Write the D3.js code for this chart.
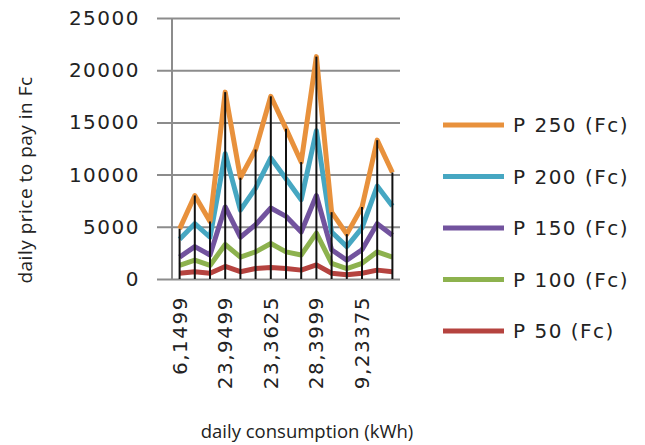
<!DOCTYPE html>
<html>
<head>
<meta charset="utf-8">
<script src="https://cdn.jsdelivr.net/npm/d3@7/dist/d3.min.js"></script>
<style>
  body { margin: 0; background: #fff; }
  text { font-family: "Open Sans", sans-serif; fill: #222; }
  .wide { font-family: "DejaVu Sans", sans-serif; letter-spacing: 1.5px; }
</style>
</head>
<body>
<div id="chart"></div>
<script>
// categories (15 points, only every third one carries a label)
var categories = ["6,1499", "", "", "23,9499", "", "", "23,3625", "", "", "28,3999", "", "", "9,23375", "", ""];
var yTicks = [0, 5000, 10000, 15000, 20000, 25000];

var seriesNames = ["P 250 (Fc)", "P 200 (Fc)", "P 150 (Fc)", "P 100 (Fc)", "P 50 (Fc)"];
var p250 = [4800, 8000, 5500, 17900, 9700, 12400, 17500, 14400, 11200, 21300, 6400, 4300, 6900, 13300, 10200];
var p200 = [3800, 5300, 4000, 12000, 6600, 8700, 11600, 9600, 7600, 14200, 4500, 3100, 4900, 8900, 7000];
var p150 = [2100, 3100, 2300, 6900, 4000, 5200, 6800, 6000, 4500, 8000, 2800, 1800, 2800, 5300, 4200];
var p100 = [1300, 1800, 1300, 3300, 2100, 2600, 3400, 2600, 2300, 4400, 1500, 1000, 1500, 2600, 2100];
var p50  = [550, 700, 550, 1200, 700, 1000, 1100, 1000, 850, 1350, 550, 400, 550, 850, 700];
var colors = ["#E8913C", "#46A7C2", "#72539E", "#8DB24E", "#B5433F"];

function renderChart(){
    var outerWidth = 645, outerHeight = 445;
    var margin = {top: 18, left: 172};
    var width = 228, height = 261;

    var allSeries = [p250, p200, p150, p100, p50];

    var x = d3.scaleBand()
        .domain(d3.range(categories.length))
        .range([0, width]);

    var y = d3.scaleLinear()
        .domain([0, 25000])
        .range([height, 0]);

    var line = d3.line()
        .x(function(d, i) { return x(i) + x.bandwidth()/2; })
        .y(function(d) { return y(d); });

    var svg = d3.select("#chart").append("svg")
        .attr("width", outerWidth)
        .attr("height", outerHeight);

    var g = svg.append("g")
        .attr("transform", "translate(" + margin.left + "," + margin.top + ")");

    // gridlines + outside ticks
    var yAxis = d3.axisLeft(y)
        .tickValues(yTicks)
        .tickFormat(d3.format("d"))
        .tickSize(-width)
        .tickPadding(32);

    var ya = g.append("g").attr("class", "y axis").call(yAxis);
    ya.select(".domain").remove();
    ya.selectAll(".tick line")
        .attr("x1", -15)
        .attr("stroke", "#8c8c8c")
        .attr("stroke-width", 2);
    ya.selectAll(".tick text")
        .attr("class", "wide")
        .style("font-size", "20px")
        .attr("fill", "#333");

    g.append("line")
        .attr("x1", 0).attr("x2", 0)
        .attr("y1", 0).attr("y2", height)
        .attr("stroke", "#8c8c8c")
        .attr("stroke-width", 2);

    // x labels
    var xAxis = d3.axisBottom(x)
        .tickValues(d3.range(0, categories.length, 3))
        .tickFormat(function(i) { return categories[i]; })
        .tickSize(0);

    var xa = g.append("g")
        .attr("class", "x axis")
        .attr("transform", "translate(0," + height + ")")
        .call(xAxis);
    xa.select(".domain").remove();
    xa.selectAll(".tick text")
        .attr("class", "wide")
        .attr("transform", "rotate(-90)")
        .attr("text-anchor", "end")
        .attr("x", -17)
        .attr("y", 0)
        .attr("dy", "0.35em")
        .style("font-size", "20px")
        .attr("fill", "#333");

    // series lines
    allSeries.slice().reverse().forEach(function(s, k) {
        var i = allSeries.length - 1 - k;
        g.append("path")
            .datum(s)
            .attr("fill", "none")
            .attr("stroke", colors[i])
            .attr("stroke-width", 5)
            .attr("stroke-linejoin", "round")
            .attr("d", line);
    });

    // drop lines
    g.selectAll(".drop")
        .data(p250)
        .enter().append("line")
        .attr("class", "drop")
        .attr("x1", function(d, i) { return x(i) + x.bandwidth()/2; })
        .attr("x2", function(d, i) { return x(i) + x.bandwidth()/2; })
        .attr("y1", function(d) { return y(d); })
        .attr("y2", height)
        .attr("stroke", "#111")
        .attr("stroke-width", 2);

    // axis titles
    svg.append("text")
        .attr("transform", "translate(32,180) rotate(-90)")
        .attr("text-anchor", "middle")
        .style("font-size", "19px")
        .style("letter-spacing", "0.5px")
        .attr("fill", "#333")
        .text("daily price to pay in Fc");

    svg.append("text")
        .attr("x", 307)
        .attr("y", 438)
        .attr("text-anchor", "middle")
        .style("font-size", "18.5px")
        .attr("fill", "#333")
        .text("daily consumption (kWh)");

    // legend
    var legend = svg.selectAll(".legend")
        .data(seriesNames)
        .enter().append("g")
        .attr("class", "legend")
        .attr("transform", function(d, i) { return "translate(443," + (125 + i*51.5) + ")"; });

    legend.append("line")
        .attr("x1", 0).attr("x2", 61)
        .attr("stroke", function(d, i) { return colors[i]; })
        .attr("stroke-width", 5);

    legend.append("text")
        .attr("class", "wide")
        .attr("x", 70)
        .attr("dy", "0.35em")
        .style("font-size", "20px")
        .attr("fill", "#333")
        .text(function(d) { return d; });
}

renderChart()
</script>
</body>
</html>
